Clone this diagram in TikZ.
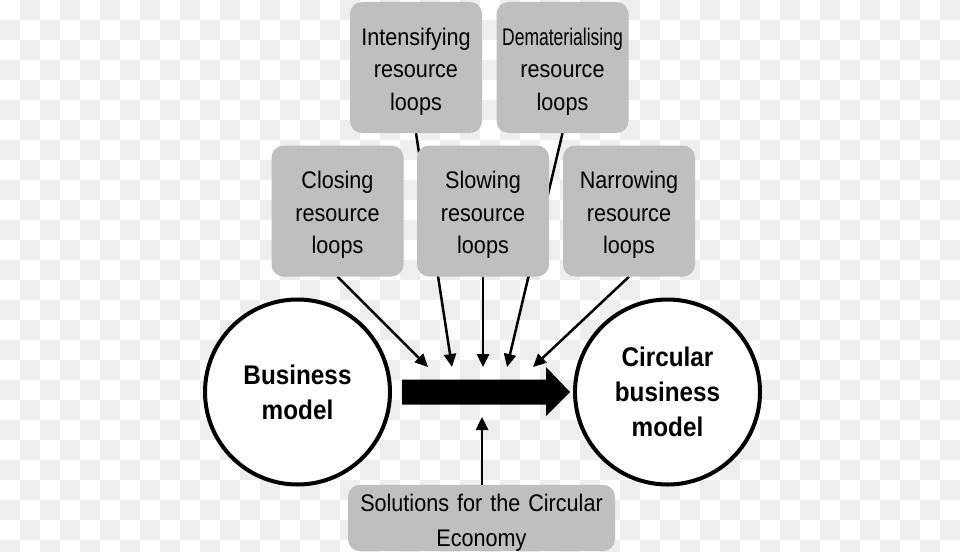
\documentclass[tikz,border=0pt]{standalone}
\usepackage{fontspec}
\setmainfont{Liberation Sans}[FakeStretch=0.9]
\usetikzlibrary{arrows.meta,calc}
\pgfdeclarelayer{checker}
\pgfdeclarelayer{links}
\pgfsetlayers{checker,links,main}
\definecolor{chk}{HTML}{EEEEEE}
\definecolor{boxgray}{HTML}{BFBFBF}
\begin{document}
\begin{tikzpicture}[x=1pt,y=-1pt,
  loopbox/.style={rectangle, rounded corners=12pt, fill=boxgray, minimum width=132pt,
    minimum height=131pt, text width=128pt, align=center, inner sep=0pt,
    font=\fontsize{24}{32.5}\selectfont, execute at begin node={\rule{0pt}{25pt}}},
  bmcircle/.style={circle, draw=black, line width=4pt, fill=white, minimum size=185pt,
    inner sep=0pt, align=center, font=\fontsize{27}{35}\selectfont\bfseries},
  link/.style={line width=2.5pt, -{Triangle[length=13pt,width=12pt]}}]
\useasboundingbox (0,0) rectangle (960,551);
\begin{pgfonlayer}{checker}
\begin{scope}
\clip (0,0) rectangle (960,551);
\fill[white] (0,0) rectangle (960,551);
\foreach \i in {0,...,47}{
  \foreach \j in {0,...,27}{
    \pgfmathtruncatemacro\chkodd{mod(\i+\j,2)}
    \ifnum\chkodd=1 \fill[chk] (\i*20,\j*20) rectangle ++(20,20);\fi
  }
}
\end{scope}
\end{pgfonlayer}

\node[loopbox] (int) at (416,67.5) {Intensifying\\resource\\loops};
\node[loopbox] (dem) at (562.5,67.5) {\scalebox{0.81}[1]{Dematerialising}\\resource\\loops};
\node[loopbox] (clo) at (337.5,211) {Closing\\resource\\loops};
\node[loopbox] (slo) at (483,211) {Slowing\\resource\\loops};
\node[loopbox] (nar) at (629,211) {Narrowing\\resource\\loops};
\node[loopbox, minimum width=267pt, minimum height=66pt, text width=262pt,
  font=\fontsize{24}{35}\selectfont, execute at begin node={\rule{0pt}{26.5pt}}] (sol) at (481.5,518) {Solutions for the Circular\\Economy};
\node[bmcircle] (bm) at (297.5,392) {Business\\model};
\node[bmcircle] (cbm) at (667.5,392) {Circular\\business\\model};

\coordinate (tclo) at (428,367);
\coordinate (tint) at (452,367);
\coordinate (tslo) at (483,367);
\coordinate (tdem) at (507,367);
\coordinate (tnar) at (533,367);
\coordinate (tsol) at (482,417);

\begin{pgfonlayer}{links}
\draw[link] (clo.south) -- (tclo);
\draw[link] (int.south) -- (tint);
\draw[link] (slo.south) -- (tslo);
\draw[link] (dem.south) -- (tdem);
\draw[link] (nar.south) -- (tnar);
\draw[link] (sol.north -| tsol) -- (tsol);
\end{pgfonlayer}

% main transition arrow from Business model to Circular business model
\coordinate (bstart) at ($(bm.east)+(10,0)$);
\coordinate (btip) at ($(cbm.west)+(-3,0)$);
\fill ($(bstart)+(0,-12.5)$) -- ($(btip)+(-24,-12.5)$) -- ($(btip)+(-24,-25)$) -- (btip)
  -- ($(btip)+(-24,24)$) -- ($(btip)+(-24,12.5)$) -- ($(bstart)+(0,12.5)$) -- cycle;
\end{tikzpicture}
\end{document}
